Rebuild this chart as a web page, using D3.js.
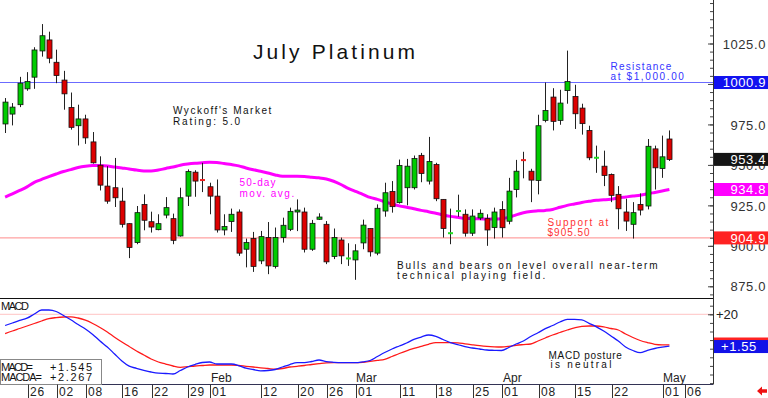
<!DOCTYPE html>
<html><head><meta charset="utf-8">
<script src="https://cdn.jsdelivr.net/npm/d3@7"></script>
<style>body{margin:0;background:#fff;overflow:hidden}svg{display:block}</style>
</head><body>
<svg id="c" width="768" height="398"></svg>
<script>
// ---------- data ----------
const dates = [
"2023-12-20","2023-12-21","2023-12-22","2023-12-26","2023-12-27","2023-12-28","2023-12-29",
"2024-01-02","2024-01-03","2024-01-04","2024-01-05","2024-01-08","2024-01-09","2024-01-10","2024-01-11","2024-01-12",
"2024-01-16","2024-01-17","2024-01-18","2024-01-19","2024-01-22","2024-01-23","2024-01-24","2024-01-25","2024-01-26",
"2024-01-29","2024-01-30","2024-01-31",
"2024-02-01","2024-02-02","2024-02-05","2024-02-06","2024-02-07","2024-02-08","2024-02-09","2024-02-12","2024-02-13",
"2024-02-14","2024-02-15","2024-02-16","2024-02-20","2024-02-21","2024-02-22","2024-02-23","2024-02-26","2024-02-27",
"2024-02-28","2024-02-29",
"2024-03-01","2024-03-04","2024-03-05","2024-03-06","2024-03-07","2024-03-08","2024-03-11","2024-03-12","2024-03-13",
"2024-03-14","2024-03-15","2024-03-18","2024-03-19","2024-03-20","2024-03-21","2024-03-22","2024-03-25","2024-03-26",
"2024-03-27","2024-03-28",
"2024-04-01","2024-04-02","2024-04-03","2024-04-04","2024-04-05","2024-04-08","2024-04-09","2024-04-10","2024-04-11",
"2024-04-12","2024-04-15","2024-04-16","2024-04-17","2024-04-18","2024-04-19","2024-04-22","2024-04-23","2024-04-24",
"2024-04-25","2024-04-26","2024-04-29","2024-04-30",
"2024-05-01","2024-05-02"];
const futureDates = ["2024-05-03","2024-05-06"];

const open = [975.3,981.4,987.2,997.0,1004.2,1020.4,1027.2,1013.4,1002.4,985.5,
974.2,978.4,964.2,949.8,936.9,935.9,927.6,913.7,902.0,925.6,
914.9,910.0,919.0,916.8,906.1,930.7,945.5,940.8,936.5,930.7,
909.8,915.0,920.9,897.9,904.5,890.7,905.1,887.3,905.1,910.2,
920.9,920.9,897.9,916.4,913.3,893.4,903.6,892.0,891.3,901.8,
910.7,895.5,921.5,933.6,926.7,935.9,935.9,955.9,940.0,950.2,
928.7,907.6,921.3,919.5,907.8,917.2,916.8,911.3,922.5,915.2,
934.8,953.2,946.1,940.4,977.5,991.9,977.5,995.9,992.3,985.1,
971.3,954.2,949.2,944.1,931.8,920.9,913.3,925.6,924.6,959.9,
947.8,966.0];
const high = [991.3,988.2,1004.4,1007.3,1022.7,1037.0,1032.3,1021.2,1008.1,994.7,
987.2,981.0,970.3,955.3,949.2,954.3,935.9,913.9,924.6,931.8,
921.1,919.5,930.1,919.9,935.9,947.2,946.7,951.3,939.0,941.0,
919.5,923.0,922.5,904.5,908.6,909.2,914.7,911.3,917.4,923.6,
928.7,923.6,916.0,920.1,915.3,910.7,905.1,901.6,901.0,916.2,
910.7,925.6,939.0,940.0,953.3,953.7,955.8,957.4,967.3,951.3,
928.7,923.0,931.6,922.5,922.5,922.5,919.5,923.6,927.6,942.0,
953.1,958.1,947.6,981.0,1000.9,997.4,996.4,1020.6,999.5,987.8,
974.2,961.9,958.8,944.7,936.9,929.1,927.0,932.4,966.0,961.9,
968.1,971.3];
const low = [969.7,974.4,985.7,995.8,997.0,1016.9,1012.8,1000.5,984.1,971.8,
962.0,963.0,950.8,934.2,926.0,924.0,911.3,892.4,901.0,909.6,
908.2,909.6,917.0,901.0,905.7,924.6,930.3,933.2,919.5,908.2,
906.5,908.6,893.8,886.7,883.9,888.7,882.5,886.0,902.0,909.1,
909.1,895.9,896.9,916.0,888.7,891.8,888.7,887.6,879.0,897.9,
893.4,894.2,918.0,920.5,926.1,925.0,934.8,939.3,937.9,927.6,
905.1,901.0,918.0,905.7,906.1,915.9,900.0,904.5,905.1,913.3,
929.9,941.7,927.0,931.8,976.3,971.3,974.8,987.8,972.2,968.7,
952.9,945.1,936.9,927.0,910.2,909.2,904.5,918.8,922.5,934.8,
942.0,952.4];
const close = [988.8,985.7,1000.5,1001.5,1021.0,1029.8,1015.9,1005.2,993.9,973.2,
978.4,966.7,951.3,937.5,927.6,929.7,913.3,899.0,920.5,915.8,
911.6,913.7,923.6,903.4,929.7,945.9,940.0,940.5,930.7,909.8,
911.9,919.5,895.5,902.0,887.3,905.7,887.6,905.1,912.7,921.3,
922.1,897.9,913.9,917.8,890.1,905.1,893.8,892.4,896.9,912.8,
896.3,923.2,932.8,924.2,949.6,949.2,953.9,944.7,952.1,929.1,
910.7,908.0,921.7,907.8,918.4,920.1,909.8,920.9,911.2,933.8,
946.1,952.7,940.6,974.2,983.6,976.9,988.2,1001.5,981.6,975.5,
954.4,954.6,943.5,931.2,922.9,915.3,920.5,922.1,961.5,948.2,
955.0,953.4];
const ma50 = [930.1,932.1,934.2,936.4,939.2,941.0,942.8,944.4,945.9,947.1,
948.4,949.2,949.6,949.6,949.3,948.7,948.1,947.5,946.8,946.3,
946.2,946.8,947.8,948.7,949.8,950.5,951.0,951.3,951.6,951.5,
950.8,950.2,949.4,948.1,947.0,946.1,945.0,943.8,943.0,943.0,
943.0,942.8,942.4,942.0,941.3,939.9,937.9,935.5,933.6,931.8,
929.9,928.7,927.2,925.9,924.7,923.8,922.9,921.9,921.1,920.1,
919.1,918.2,917.6,917.0,916.7,916.7,916.6,916.6,916.8,917.6,
919.1,920.4,921.2,921.6,921.9,922.5,923.8,925.0,925.9,926.8,
927.5,928.1,928.4,928.8,929.6,930.2,930.8,931.3,932.1,933.0,
933.9,934.8];
const macd = [13.49,14.94,16.40,17.73,20.17,22.50,22.50,21.63,19.30,16.80,
14.07,11.45,8.26,4.48,0.99,-3.08,-7.15,-10.17,-11.40,-12.56,
-13.55,-14.24,-14.42,-14.71,-12.67,-10.64,-9.19,-8.02,-7.73,-8.90,
-8.90,-8.90,-9.77,-11.34,-12.09,-12.85,-12.67,-12.09,-10.64,-9.19,
-8.14,-8.14,-7.44,-6.57,-7.50,-7.91,-8.14,-8.14,-8.14,-7.62,
-6.86,-4.53,-2.21,-0.17,1.57,3.31,5.47,6.80,7.97,7.21,
5.35,3.55,2.44,1.16,0.41,-0.17,-0.76,-0.93,-1.05,0.70,
2.73,4.48,7.09,9.30,11.63,13.49,15.52,17.09,17.09,16.80,
14.77,12.73,10.29,7.38,4.48,0.99,-1.05,-2.33,-0.93,0.12,
0.87,1.545];
const macdAvg = [8.72,10.29,11.74,13.20,14.65,16.10,17.50,18.08,18.43,18.55,
17.85,16.57,14.65,12.33,9.71,6.69,3.90,1.28,-1.34,-3.66,
-5.99,-7.73,-8.90,-10.06,-10.81,-10.47,-10.06,-9.77,-9.48,-9.48,
-9.48,-9.48,-9.77,-10.23,-10.64,-11.10,-11.51,-11.92,-11.51,-10.64,
-10.23,-9.77,-9.19,-8.66,-8.20,-8.14,-8.14,-8.14,-8.14,-7.91,
-7.38,-6.80,-6.16,-4.53,-2.79,-1.22,0.12,1.34,2.56,3.49,
3.49,3.49,3.43,2.85,2.27,1.74,1.34,1.10,0.99,1.34,
1.98,2.38,2.73,4.48,6.22,7.97,9.42,10.87,12.15,13.02,
13.20,13.20,12.73,11.74,10.87,8.55,6.51,4.77,3.55,2.56,
2.27,2.267];

const resistance = 1000.9;
const support = 904.9;
const lastClose = 953.4;
const lastMA = 934.8;
const priceTicks = [875, 900, 925, 950, 975, 1000, 1025];
const priceLabelTicks = [875, 900, 925, 950, 975, 1025];
const macdRefLevel = 20;
const dayTicks = ["2023-12-26","2024-01-02","2024-01-08","2024-01-16","2024-01-22","2024-01-29",
"2024-02-01","2024-02-12","2024-02-20","2024-02-26","2024-03-01","2024-03-11","2024-03-18",
"2024-03-25","2024-04-01","2024-04-08","2024-04-15","2024-04-22","2024-05-01","2024-05-06"];
const monthTicks = [["2024-02-01","Feb"],["2024-03-01","Mar"],["2024-04-01","Apr"],["2024-05-01","May"]];

// ---------- scales ----------
const svg = d3.select("#c");
const FONT = "'Liberation Sans', Arial, sans-serif";
const allDates = dates.concat(futureDates);
const xi = d3.scaleLinear().domain([0, allDates.length - 1]).range([5.1, 684]);
const xd = d => xi(allDates.indexOf(d));
const y = d3.scaleLinear().domain([875, 1025]).range([286.3, 43.5]);
const ym = d3.scaleLinear().domain([0, 20]).range([348.7, 314.3]);
const R = 713; // right edge of plot
const fmt2 = v => (Math.round(v * 100 + 1e-6) / 100).toFixed(2);

// reference lines
svg.append("line").attr("x1",0).attr("x2",R).attr("y1",y(resistance)).attr("y2",y(resistance))
  .attr("stroke","#6b6bff").attr("stroke-width",1);
svg.append("line").attr("x1",0).attr("x2",R).attr("y1",y(support)).attr("y2",y(support))
  .attr("stroke","#ff8a8a").attr("stroke-width",1);
svg.append("line").attr("x1",0).attr("x2",R).attr("y1",ym(macdRefLevel)).attr("y2",ym(macdRefLevel))
  .attr("stroke","#ffc4c4").attr("stroke-width",1);

// moving average
svg.append("path").datum(ma50)
  .attr("d", d3.line().x((d,i)=>xd(dates[i])).y(d=>y(d)).curve(d3.curveMonotoneX))
  .attr("fill","none").attr("stroke","#ff00ff").attr("stroke-width",3);

// candles
const cg = svg.append("g");
dates.forEach((d,i)=>{
  const cx = Math.round(xd(d)) + 0.5;
  const o = open[i], c = close[i];
  const up = c >= o;
  cg.append("line").attr("x1",cx).attr("x2",cx).attr("y1",y(high[i])).attr("y2",y(low[i]))
    .attr("stroke","#222").attr("stroke-width",1);
  if (Math.abs(c - o) < 0.6) {
    cg.append("rect").attr("x",cx-2.5).attr("width",5).attr("y",y((o+c)/2)-1).attr("height",2)
      .attr("fill", up ? "#22dd22" : "#ee2222");
  } else {
    const top = y(Math.max(o,c)), bot = y(Math.min(o,c));
    cg.append("rect").attr("x",cx-2.5).attr("width",5).attr("y",top).attr("height",Math.max(1,bot-top))
      .attr("fill", up ? "#00cc00" : "#dd0000").attr("stroke","#111").attr("stroke-width",0.8);
  }
});

// MACD lines
svg.append("path").datum(macdAvg)
  .attr("d", d3.line().x((d,i)=>xd(dates[i])).y(d=>ym(d)).curve(d3.curveMonotoneX))
  .attr("fill","none").attr("stroke","#ff1a1a").attr("stroke-width",1.3);
svg.append("path").datum(macd)
  .attr("d", d3.line().x((d,i)=>xd(dates[i])).y(d=>ym(d)).curve(d3.curveMonotoneX))
  .attr("fill","none").attr("stroke","#1a1aff").attr("stroke-width",1.3);

// panel separators / frame
svg.append("line").attr("x1",0).attr("x2",R).attr("y1",298.5).attr("y2",298.5).attr("stroke","#111").attr("stroke-width",1.2);
svg.append("line").attr("x1",0).attr("x2",R).attr("y1",384.5).attr("y2",384.5).attr("stroke","#333355").attr("stroke-width",1.2);
svg.append("line").attr("x1",R+0.5).attr("x2",R+0.5).attr("y1",0).attr("y2",384.5).attr("stroke","#333").attr("stroke-width",1);

// price axis (right)
const minorP = d3.range(855, 1055, 5).filter(v => y(v) > 1 && y(v) < 297);
svg.append("g").attr("transform",`translate(${R},0)`)
  .call(d3.axisRight(y).tickValues(minorP).tickSizeInner(-3).tickSizeOuter(0).tickFormat(""))
  .call(g=>{g.select(".domain").remove(); g.selectAll("line").attr("stroke","#444");});
svg.append("g").attr("transform",`translate(${R},0)`)
  .call(d3.axisRight(y).tickValues(priceTicks).tickSizeInner(-5).tickSizeOuter(0).tickFormat(""))
  .call(g=>{g.select(".domain").remove(); g.selectAll("line").attr("stroke","#444");});
const pax = svg.append("g").attr("transform",`translate(${R},0)`)
  .call(d3.axisRight(y).tickValues(priceLabelTicks).tickSize(0).tickFormat(d3.format(".1f")))
  .call(g=>{g.select(".domain").remove(); g.selectAll("line").remove();});
pax.selectAll("text").attr("x",53).attr("text-anchor","end").attr("dy","0.36em")
  .style("font-family",FONT).style("font-size","13px").style("letter-spacing","0.6px").attr("fill","#333");

// MACD axis (right)
const minorM = d3.range(-20, 30, 5).filter(v => ym(v) > 300 && ym(v) < 384);
svg.append("g").attr("transform",`translate(${R},0)`)
  .call(d3.axisRight(ym).tickValues(minorM).tickSizeInner(-3).tickSizeOuter(0).tickFormat(""))
  .call(g=>{g.select(".domain").remove(); g.selectAll("line").attr("stroke","#444");});
const max = svg.append("g").attr("transform",`translate(${R},0)`)
  .call(d3.axisRight(ym).tickValues([macdRefLevel]).tickSizeInner(-5).tickSizeOuter(0).tickFormat(d=>"+"+d))
  .call(g=>{g.select(".domain").remove(); g.selectAll("line").attr("stroke","#444");});
max.selectAll("text").attr("x",3).attr("dy","0.36em")
  .style("font-family",FONT).style("font-size","13px").attr("fill","#222");

// value boxes
function box(yy, fill, label, anchorX, anchor) {
  svg.append("rect").attr("x",R+1).attr("width",768-R-1).attr("y",yy-6.5).attr("height",13).attr("fill",fill);
  if (label) svg.append("text").attr("x",anchorX).attr("y",yy).attr("dy","0.36em")
    .attr("text-anchor",anchor).attr("fill","#fff")
    .style("font-family",FONT).style("font-size","13px").style("letter-spacing","0.6px").text(label);
}
box(y(resistance), "#1212f0", d3.format(".1f")(resistance), 766, "end");
box(y(lastClose), "#151515", d3.format(".1f")(lastClose), 766, "end");
box(y(lastMA), "#ff00ff", d3.format(".1f")(lastMA), 766, "end");
box(y(support), "#ff2222", d3.format(".1f")(support), 766, "end");
box(ym(macdAvg[macdAvg.length-1]) - 0.8, "#ff2222", null);
box(ym(macd[macd.length-1]) + 0.5, "#1212e8", "+" + fmt2(macd[macd.length-1]), 721, "start");

// texts
function txt(x, yy, s, opts) {
  const t = svg.append("text").attr("x",x).attr("y",yy).text(s)
    .style("font-family",FONT).style("font-size",(opts.size||10)+"px").attr("fill",opts.fill||"#111");
  if (opts.len) t.attr("textLength",opts.len).attr("lengthAdjust","spacing");
  if (opts.ls) t.style("letter-spacing",opts.ls+"px");
  return t;
}
const cw = 6.24;
const L = s => s.length*cw - 1.5;
txt(253, 59, "July Platinum", {size:21, len:162});
txt(173, 114, "Wyckoff's Market", {len:L("Wyckoff's Market")});
txt(173, 124.5, "Rating: 5.0", {len:L("Rating: 5.0")});
txt(239.5, 186, "50-day", {fill:"#ff00ff", len:L("50-day")});
txt(239.5, 196.5, "mov. avg.", {fill:"#ff00ff", len:L("mov. avg.")});
txt(610.5, 69.5, "Resistance", {fill:"#3333ff", len:L("Resistance")});
txt(610.5, 79.5, "at $1,000.00", {fill:"#3333ff", len:L("at $1,000.00")});
txt(547.5, 225.5, "Support at", {fill:"#ff3333", len:L("Support at")});
txt(547.5, 236, "$905.50", {fill:"#ff3333", len:L("$905.50")});
txt(397, 268.5, "Bulls and bears on level overall near-term", {len:L("Bulls and bears on level overall near-term")});
txt(397, 279, "technical playing field.", {len:L("technical playing field.")});
txt(548.5, 358.5, "MACD posture", {len:L("MACD posture")});
txt(550.5, 368, "is neutral", {len:L("is neutral")});

// MACD panel labels
txt(1, 309.5, "MACD", {size:11, len:28});
svg.append("rect").attr("x",0.5).attr("y",359.5).attr("width",101).attr("height",25)
  .attr("fill","#fff").attr("stroke","#888");
txt(1, 370.5, "MACD=", {size:11, len:32});
txt(50, 370.5, "+" + d3.format(".3f")(macd[macd.length-1]), {size:11, len:42});
txt(1, 381, "MACDA=", {size:11, len:41});
txt(50, 381, "+" + d3.format(".3f")(macdAvg[macdAvg.length-1]), {size:11, len:42});

// month labels
monthTicks.forEach(([d,m]) => txt(Math.round(xd(d))+1, 381.5, m, {size:12, fill:"#222"}));

// date axis
const dax = svg.append("g").attr("transform","translate(0,384.5)")
  .call(d3.axisBottom(xi).tickValues(dayTicks.map(d=>allDates.indexOf(d))).tickSizeInner(14).tickSizeOuter(0)
    .tickFormat(i => allDates[i].slice(8)))
  .call(g=>{g.select(".domain").remove(); g.selectAll("line").attr("stroke","#333").attr("transform","translate(0.5,0)");});
dax.selectAll(".tick").attr("transform", function(){ 
  const t = d3.select(this).attr("transform"); 
  const m = /translate\(([-\d.]+)/.exec(t); 
  return `translate(${Math.round(+m[1])},0)`; });
dax.selectAll("text").attr("x",2).attr("y",11.5).attr("dy",0).attr("text-anchor","start")
  .style("font-family",FONT).style("font-size","12px").style("letter-spacing","0.8px").attr("fill","#222");

// red arrow bottom right
svg.append("path").attr("d","M757,391 L762,386.5 L762,389.3 L767,389.3 L767,392.7 L762,392.7 L762,395.5 Z")
  .attr("fill","#ee1111");
</script>
</body></html>
